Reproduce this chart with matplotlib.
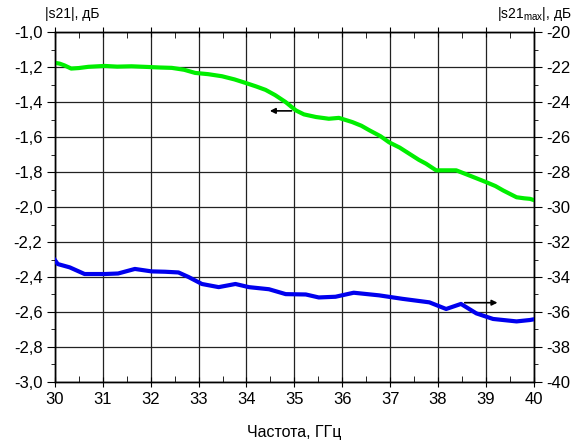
import matplotlib
matplotlib.use("Agg")
import matplotlib.pyplot as plt
from matplotlib.ticker import MultipleLocator, FuncFormatter

plt.rcParams['font.family'] = ['Liberation Sans', 'DejaVu Sans']

# Green curve: |s21|, dB (left axis)
f_green = [30.0, 30.1, 30.2, 30.34, 30.5, 30.7, 31.04, 31.3, 31.6, 31.95, 32.2, 32.44, 32.7,
           32.93, 33.2, 33.49, 33.75, 33.98, 34.2, 34.4, 34.6, 34.82, 35.03, 35.2, 35.45,
           35.72, 35.93, 36.21, 36.4, 36.56, 36.8, 36.98, 37.2, 37.4, 37.6, 37.75, 37.96,
           38.2, 38.38, 38.66, 39.01, 39.2, 39.36, 39.64, 39.8, 39.92, 40.0]
s21_green = [-1.175, -1.18, -1.19, -1.208, -1.205, -1.198, -1.193, -1.197, -1.195, -1.199, -1.202,
             -1.204, -1.215, -1.233, -1.24, -1.252, -1.27, -1.29, -1.31, -1.33, -1.36, -1.40,
             -1.447, -1.47, -1.485, -1.495, -1.49, -1.514, -1.535, -1.56, -1.595, -1.63,
             -1.66, -1.695, -1.73, -1.752, -1.79, -1.79, -1.79, -1.82, -1.858, -1.88, -1.905,
             -1.944, -1.95, -1.953, -1.96]

# Blue curve: |s21max|, dB (right axis)
f_blue = [30.0, 30.06, 30.31, 30.62, 31.04, 31.32, 31.67, 32.02, 32.3, 32.58, 32.79, 33.07,
          33.42, 33.77, 34.05, 34.47, 34.82, 35.24, 35.51, 35.86, 36.24, 36.77, 37.26, 37.82,
          38.17, 38.48, 38.8, 39.15, 39.64, 39.92, 40.0]
s21max_blue = [-33.03, -33.26, -33.45, -33.83, -33.83, -33.80, -33.54, -33.68, -33.70, -33.74,
               -34.00, -34.40, -34.58, -34.40, -34.58, -34.70, -34.98, -35.00, -35.17, -35.13,
               -34.90, -35.05, -35.25, -35.45, -35.83, -35.54, -36.08, -36.40, -36.54, -36.46,
               -36.42]

fig = plt.figure(figsize=(5.84, 4.41), dpi=100)
ax = fig.add_axes([0.094, 0.134, 0.82, 0.793])
ax2 = ax.twinx()

ax.plot(f_green, s21_green, color='#00ee00', lw=3.0, zorder=3)
ax2.plot(f_blue, s21max_blue, color='#0000ee', lw=3.0, zorder=3)

ax.set_xlim(30, 40)
ax.set_ylim(-3.0, -1.0)
ax2.set_ylim(-40, -20)

ax.xaxis.set_major_locator(MultipleLocator(1))
ax.xaxis.set_minor_locator(MultipleLocator(0.5))
ax.yaxis.set_major_locator(MultipleLocator(0.2))
ax.yaxis.set_minor_locator(MultipleLocator(0.1))
ax2.yaxis.set_major_locator(MultipleLocator(2))
ax2.yaxis.set_minor_locator(MultipleLocator(1))

ax.yaxis.set_major_formatter(FuncFormatter(lambda v, p: f"{v:.1f}".replace('.', ',')))
ax2.yaxis.set_major_formatter(FuncFormatter(lambda v, p: f"{v:.0f}"))

ax.grid(True, which='major', color='#222222', lw=0.9)
ax.tick_params(axis='x', which='both', top=True, labelsize=12, pad=4)
ax.tick_params(axis='x', which='major', direction='inout', length=7)
ax.tick_params(axis='x', which='minor', direction='in', length=4)
ax.tick_params(axis='y', which='major', direction='out', length=6, labelsize=12, pad=3)
ax.tick_params(axis='y', which='minor', direction='out', length=3)
ax2.tick_params(axis='y', which='major', direction='out', length=6, labelsize=12, pad=3)
ax2.tick_params(axis='y', which='minor', direction='out', length=3)

for a in (ax, ax2):
    for s in a.spines.values():
        s.set_linewidth(1.0)
        s.set_color('black')

ax.set_xlabel('Частота, ГГц', fontsize=11.5, labelpad=13)

fig.text(0.077, 0.968, '|s21|, дБ', fontsize=10, ha='left', va='center')
fig.text(0.978, 0.968, r'|s21$_{\mathregular{max}}$|, дБ', fontsize=10, ha='right', va='center')

ax.annotate('', xy=(34.43, -1.45), xytext=(35.0, -1.45),
            arrowprops=dict(arrowstyle='-|>', color='black', lw=1.2, mutation_scale=8), zorder=4)
ax2.annotate('', xy=(39.3, -35.47), xytext=(38.5, -35.47),
             arrowprops=dict(arrowstyle='-|>', color='black', lw=1.2, mutation_scale=8), zorder=4)

fig.savefig('out.png', dpi=100)
